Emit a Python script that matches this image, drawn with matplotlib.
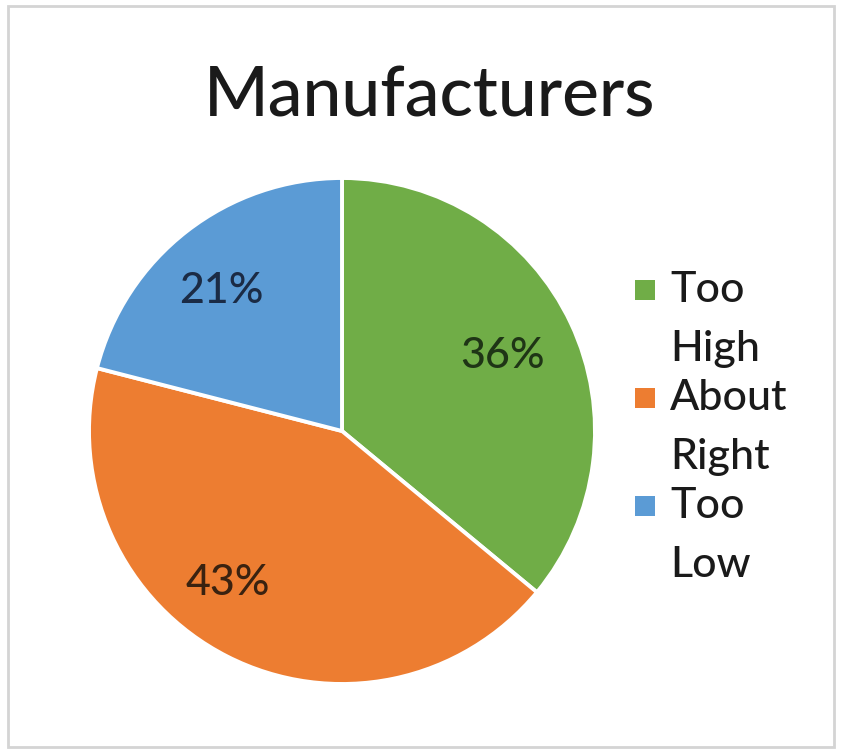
import numpy as np
import matplotlib.pyplot as plt
import matplotlib.patches as mpatches

plt.rcParams['font.family'] = ['Lato', 'DejaVu Sans']
plt.rcParams['font.weight'] = 'medium'

title = "Manufacturers"
categories = ["Too High", "About Right", "Too Low"]
shares = [36, 43, 21]
colors = ["#70AD47", "#ED7D31", "#5B9BD5"]
label_colors = ["#1f3516", "#3a2210", "#1b2b45"]

W, H, DPI = 843, 753, 100
fig = plt.figure(figsize=(W / DPI, H / DPI), dpi=DPI)
fig.patch.set_facecolor("white")

# light chart-area frame
frame = mpatches.Rectangle((8 / W, 6 / H), 826 / W, 741 / H, transform=fig.transFigure,
                           facecolor="none", edgecolor="#d4d4d4", linewidth=2)
fig.patches.append(frame)

fig.text(430 / W, 1 - 97 / H, title, ha="center", va="center", fontsize=50, color="#1a1a1a")

# pie: centre (342, 431) px, radius 253 px
cx, cy, r = 342, 431, 253
ax = fig.add_axes([(cx - r) / W, (H - cy - r) / H, 2 * r / W, 2 * r / H])
wedges, _ = ax.pie(shares, colors=colors, startangle=90, counterclock=False, radius=1,
                   wedgeprops=dict(edgecolor="white", linewidth=2.8))
ax.set_xlim(-1, 1)
ax.set_ylim(-1, 1)
ax.set_aspect("equal")
ax.axis("off")

# percentage labels near the middle of each wedge
label_r = [0.70, 0.75, 0.73]
label_shift = [0, -10, 3]
for w, v, c, lr, sh in zip(wedges, shares, label_colors, label_r, label_shift):
    mid = np.deg2rad((w.theta1 + w.theta2) / 2 + sh)
    ax.text(lr * np.cos(mid), lr * np.sin(mid), f"{v}%", ha="center", va="center",
            fontsize=31, color=c)

# legend with wrapped entries
for i, (name, c) in enumerate(zip(categories, colors)):
    y0 = 290 + i * 108
    fig.patches.append(mpatches.Rectangle((635 / W, 1 - (y0 + 10) / H), 20 / W, 20 / H,
                                          transform=fig.transFigure, facecolor=c, edgecolor="none"))
    for j, word in enumerate(name.split()):
        fig.text(670 / W, 1 - (y0 + j * 59) / H, word, ha="left", va="center",
                 fontsize=31, color="#1a1a1a")

fig.savefig("out.png", dpi=DPI, facecolor="white")
